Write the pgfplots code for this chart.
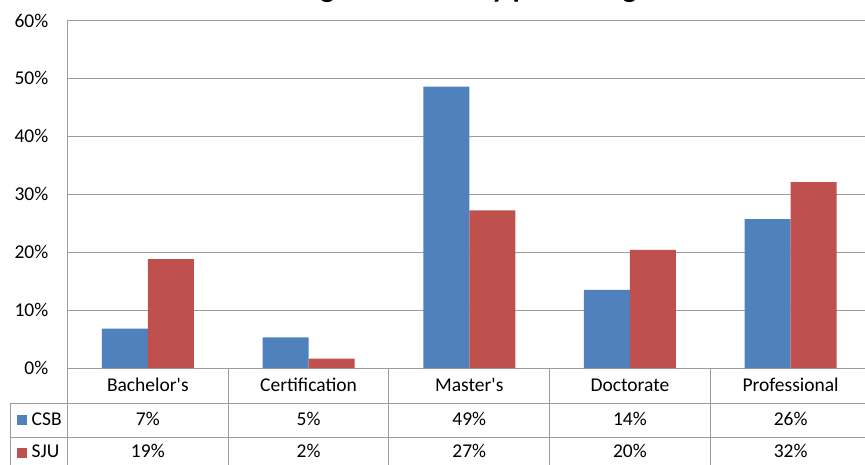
\documentclass[border=0pt]{standalone}
\usepackage{pgfplots}
\pgfplotsset{compat=1.18}
\usepackage{fontspec}
\setmainfont{Carlito}

\definecolor{csb}{HTML}{4F81BD}
\definecolor{sju}{HTML}{C0504D}
\definecolor{gridgray}{HTML}{9C9C9C}

\begin{document}
\begin{tikzpicture}
\fontsize{19.5}{23}\selectfont
% the picture is cut like the reference: 1px = 1pt
\path[use as bounding box] (0,0) rectangle (865pt,464pt);
\clip (0,0) rectangle (865pt,464pt);

% title, only the descenders are inside the frame (as in the reference)
\node[anchor=base, font=\fontsize{30}{36}\selectfont\bfseries] at (469pt,466.5pt) {Degree Earned by percentage};

\begin{axis}[
    at={(67.5pt,96pt)}, anchor=south west,
    scale only axis,
    width=803.5pt, height=347.5pt,
    xmin=-0.5, xmax=4.5,
    ymin=0, ymax=60,
    ybar=0pt, bar width=46pt,
    axis x line*=bottom, axis y line*=left,
    axis line style={draw=gridgray, line width=1pt},
    ymajorgrids=true,
    grid style={draw=gridgray, line width=1pt},
    major tick length=0pt,
    xtick={0,1,2,3,4},
    xticklabels={Bachelor\textquotesingle s, Certification, Master\textquotesingle s, Doctorate, Professional},
    xticklabel style={anchor=base, yshift=-23.8pt, inner sep=0pt},
    ytick={0,10,20,30,40,50,60},
    yticklabels={0\%,10\%,20\%,30\%,40\%,50\%,60\%},
    yticklabel style={anchor=east, xshift=-19pt, inner sep=0pt},
    tick label style={font=\fontsize{19.5}{23}\selectfont},
    clip=false,
]
\addplot[fill=csb, draw=none] coordinates {(0,6.8) (1,5.3) (2,48.6) (3,13.5) (4,25.7)};
\addplot[fill=sju, draw=none] coordinates {(0,18.8) (1,1.6) (2,27.2) (3,20.4) (4,32.1)};
\end{axis}

% data table under the chart
\begin{scope}[draw=gridgray, line width=1pt]
  \foreach \k in {0,...,5}
    \draw ({67.5pt+160.7pt*\k},96pt) -- ({67.5pt+160.7pt*\k},-10pt);
  \draw (10pt,60.5pt) -- (880pt,60.5pt);
  \draw (10pt,27pt) -- (880pt,27pt);
  \draw (10pt,60.5pt) -- (10pt,-10pt);
\end{scope}

\fill[csb] (17.3pt,39pt) rectangle (27.3pt,49pt);
\node[anchor=base west, inner sep=0pt] at (31.5pt,38.2pt) {CSB};
\fill[sju] (17.3pt,6.3pt) rectangle (27.3pt,16.3pt);
\node[anchor=base west, inner sep=0pt] at (31.5pt,6.2pt) {SJU};

\foreach \v [count=\i from 0] in {7,5,49,14,26}
  \node[anchor=base, inner sep=0pt] at ({147.85pt+160.7pt*\i},38.2pt) {\v\%};
\foreach \v [count=\i from 0] in {19,2,27,20,32}
  \node[anchor=base, inner sep=0pt] at ({147.85pt+160.7pt*\i},6.2pt) {\v\%};
\end{tikzpicture}
\end{document}
